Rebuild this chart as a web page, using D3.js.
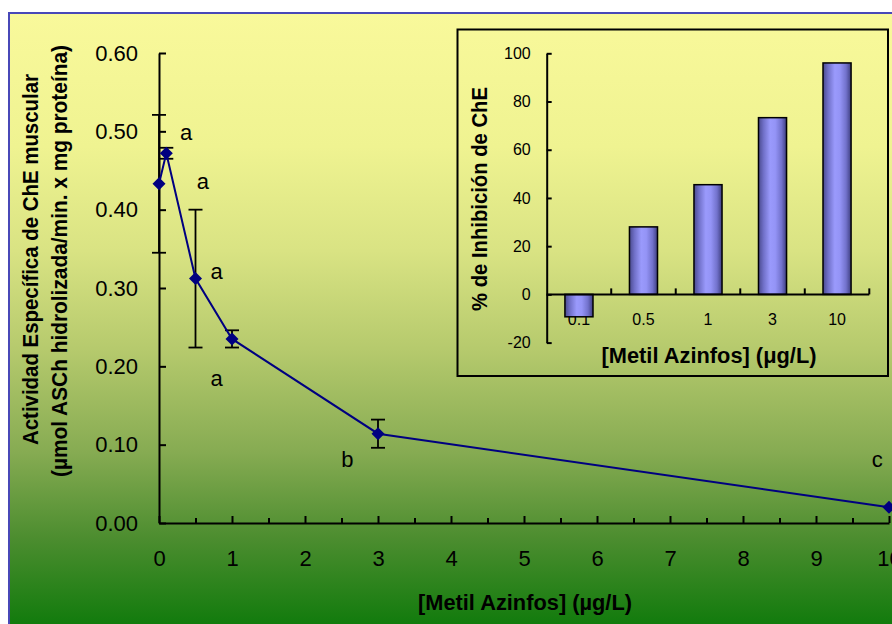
<!DOCTYPE html>
<html>
<head>
<meta charset="utf-8">
<script src="https://cdn.jsdelivr.net/npm/d3@7"></script>
<style>
  html, body { margin: 0; padding: 0; background: #ffffff; }
  svg { display: block; font-family: "Liberation Sans", Arial, sans-serif; }
</style>
</head>
<body>
<script>
// Actividad específica de ChE muscular frente a la concentración de metil azinfos
const dosis = [0, 0.1, 0.5, 1, 3, 10];
const actividad = [0.433, 0.472, 0.312, 0.235, 0.114, 0.020];
const errorEst = [0.088, 0.007, 0.088, 0.011, 0.018, 0];
const letras = ["a", "a", "a", "a", "b", "c"];
const xTicks = [0, 1, 2, 3, 4, 5, 6, 7, 8, 9, 10];
const xMinorTicks = [0.5, 1.5, 2.5, 3.5, 4.5, 5.5, 6.5, 7.5, 8.5, 9.5];
const yTicks = [0, 0.1, 0.2, 0.3, 0.4, 0.5, 0.6];

// Gráfico insertado: % de inhibición por concentración
const inhCategorias = ["0.1", "0.5", "1", "3", "10"];
const inhibicion = [-9.3, 28.0, 45.5, 73.3, 96.0];
const inhYTicks = [-20, 0, 20, 40, 60, 80, 100];

const W = 892, H = 624;
const svg = d3.select("body").append("svg").attr("width", W).attr("height", H);
const defs = svg.append("defs");

// fondo degradado amarillo -> verde
const bg = defs.append("linearGradient").attr("id", "fondo")
  .attr("gradientUnits", "userSpaceOnUse")
  .attr("x1", 0).attr("y1", 12).attr("x2", 0).attr("y2", 624);
[[0, "#f9f99b"], [0.22, "#eff391"], [0.39, "#d9e383"], [0.55, "#b6ca6d"],
 [0.72, "#86ab52"], [0.86, "#4c8d2f"], [1, "#127b0d"]]
  .forEach(([o, c]) => bg.append("stop").attr("offset", o).attr("stop-color", c));

// sombreado cilíndrico de las barras
const bar = defs.append("linearGradient").attr("id", "barra")
  .attr("x1", 0).attr("y1", 0).attr("x2", 1).attr("y2", 0);
[[0, "#4a4a8e"], [0.18, "#7070c8"], [0.42, "#9a9afc"], [0.6, "#9494f6"],
 [0.82, "#7272cc"], [1, "#3e3e80"]]
  .forEach(([o, c]) => bar.append("stop").attr("offset", o).attr("stop-color", c));

svg.append("rect").attr("x", 9).attr("y", 13).attr("width", 900).attr("height", 630)
  .attr("fill", "url(#fondo)").attr("stroke", "#4848b8").attr("stroke-width", 2);

// ---------- gráfico principal ----------
const x = d3.scaleLinear().domain([0, 10]).range([159, 889]);
const y = d3.scaleLinear().domain([0, 0.6]).range([523, 53]);
const fmt2 = d3.format(".2f");

const gy = svg.append("g").attr("transform", `translate(${x(0)},0)`)
  .call(d3.axisLeft(y).tickValues(yTicks).tickFormat(fmt2)
    .tickSizeInner(-7).tickSizeOuter(0).tickPadding(21));
const gx = svg.append("g").attr("transform", `translate(0,${y(0)})`)
  .call(d3.axisBottom(x).tickValues(xTicks).tickFormat(d3.format("d"))
    .tickSizeInner(-7).tickSizeOuter(0).tickPadding(27));
svg.append("g").attr("transform", `translate(0,${y(0)})`)
  .call(d3.axisBottom(x).tickValues(xMinorTicks).tickFormat("")
    .tickSizeInner(-5).tickSizeOuter(0))
  .select(".domain").remove();

svg.selectAll(".domain").attr("stroke", "#000").attr("stroke-width", 2);
svg.selectAll(".tick line").attr("stroke", "#000").attr("stroke-width", 2);
gy.selectAll("text").attr("font-size", 22).attr("fill", "#000");
gx.selectAll("text").attr("font-size", 22).attr("fill", "#000");

const puntos = dosis.map((d, i) => ({ d, v: actividad[i], e: errorEst[i], l: letras[i] }));

// barras de error
const eb = svg.append("g").attr("stroke", "#000").attr("stroke-width", 1.8);
puntos.filter(p => p.e > 0).forEach(p => {
  const cx = x(p.d);
  eb.append("line").attr("x1", cx).attr("x2", cx).attr("y1", y(p.v - p.e)).attr("y2", y(p.v + p.e));
  [p.v - p.e, p.v + p.e].forEach(v =>
    eb.append("line").attr("x1", cx - 7).attr("x2", cx + 7).attr("y1", y(v)).attr("y2", y(v)));
});

svg.append("path").datum(puntos)
  .attr("d", d3.line().x(p => x(p.d)).y(p => y(p.v)))
  .attr("fill", "none").attr("stroke", "#000080").attr("stroke-width", 2);

const r = 6.5;
svg.append("g").selectAll("path").data(puntos).join("path")
  .attr("d", p => `M${x(p.d)},${y(p.v) - r}L${x(p.d) + r},${y(p.v)}L${x(p.d)},${y(p.v) + r}L${x(p.d) - r},${y(p.v)}Z`)
  .attr("fill", "#000080");

// letras de significancia (ubicadas en coordenadas de datos)
const letraPos = [[0.37, 0.499], [0.60, 0.437], [0.79, 0.322], [0.79, 0.185], [2.58, 0.082], [9.84, 0.082]];
svg.append("g").selectAll("text").data(letras).join("text")
  .attr("x", (t, i) => x(letraPos[i][0])).attr("y", (t, i) => y(letraPos[i][1]))
  .attr("dy", "0.36em").attr("text-anchor", "middle")
  .attr("font-size", 22).attr("fill", "#000").text(t => t);

// títulos de ejes
svg.append("text").attr("transform", "translate(37.5,259.5) rotate(-90)")
  .attr("text-anchor", "middle").attr("font-size", 21.5).attr("font-weight", "bold")
  .attr("textLength", 371).attr("lengthAdjust", "spacingAndGlyphs")
  .text("Actividad Específica de ChE muscular");
svg.append("text").attr("transform", "translate(67,261) rotate(-90)")
  .attr("text-anchor", "middle").attr("font-size", 21.5).attr("font-weight", "bold")
  .attr("textLength", 432).attr("lengthAdjust", "spacingAndGlyphs")
  .text("(µmol  ASCh hidrolizada/min. x mg proteína)");
svg.append("text").attr("x", 525).attr("y", 610)
  .attr("text-anchor", "middle").attr("font-size", 21.5).attr("font-weight", "bold")
  .attr("textLength", 214).attr("lengthAdjust", "spacingAndGlyphs")
  .text("[Metil Azinfos] (µg/L)");

// ---------- gráfico insertado ----------
svg.append("rect").attr("x", 457.5).attr("y", 29.5).attr("width", 430.5).attr("height", 346.5)
  .attr("fill", "none").attr("stroke", "#000").attr("stroke-width", 2);

const xb = d3.scaleBand().domain(inhCategorias).range([546.7, 869.3])
  .paddingInner(0.565).paddingOuter(0.2825);
const yb = d3.scaleLinear().domain([-20, 100]).range([342.6, 53.3]);
const step = xb.step();
const x0b = xb.range()[0];

// etiquetas de categoría (debajo de las barras)
svg.append("g").selectAll("text").data(inhCategorias).join("text")
  .attr("x", c => xb(c) + xb.bandwidth() / 2).attr("y", 325)
  .attr("text-anchor", "middle").attr("font-size", 16).attr("fill", "#000").text(c => c);

svg.append("g").selectAll("rect").data(inhibicion).join("rect")
  .attr("x", (v, i) => xb(inhCategorias[i]))
  .attr("width", xb.bandwidth())
  .attr("y", v => yb(Math.max(v, 0)))
  .attr("height", v => Math.abs(yb(v) - yb(0)))
  .attr("fill", "url(#barra)").attr("stroke", "#000").attr("stroke-width", 1.5);

const gyb = svg.append("g").attr("transform", `translate(546.7,0)`)
  .call(d3.axisLeft(yb).tickValues(inhYTicks).tickFormat(d => String(d))
    .tickSizeInner(-5).tickSizeOuter(0).tickPadding(16));
gyb.select(".domain").attr("stroke", "#000").attr("stroke-width", 2);
gyb.selectAll(".tick line").attr("stroke", "#000").attr("stroke-width", 2);
gyb.selectAll("text").attr("font-size", 16).attr("fill", "#000");

// eje de categorías en 0 con marcas entre grupos
const bordes = d3.range(1, inhCategorias.length + 1).map(i => x0b + i * step);
const gxb = svg.append("g");
gxb.append("line").attr("x1", 546.7).attr("x2", 869.3).attr("y1", yb(0)).attr("y2", yb(0))
  .attr("stroke", "#000").attr("stroke-width", 2);
gxb.selectAll("line.m").data(bordes).join("line").attr("class", "m")
  .attr("x1", b => b).attr("x2", b => b).attr("y1", yb(0)).attr("y2", yb(0) - 6)
  .attr("stroke", "#000").attr("stroke-width", 2);

svg.append("text").attr("transform", "translate(487,199) rotate(-90)")
  .attr("text-anchor", "middle").attr("font-size", 22).attr("font-weight", "bold")
  .attr("textLength", 224).attr("lengthAdjust", "spacingAndGlyphs")
  .text("% de Inhibición de ChE");
svg.append("text").attr("x", 709).attr("y", 363)
  .attr("text-anchor", "middle").attr("font-size", 21.5).attr("font-weight", "bold")
  .attr("textLength", 215).attr("lengthAdjust", "spacingAndGlyphs")
  .text("[Metil Azinfos] (μg/L)");
</script>
</body>
</html>
